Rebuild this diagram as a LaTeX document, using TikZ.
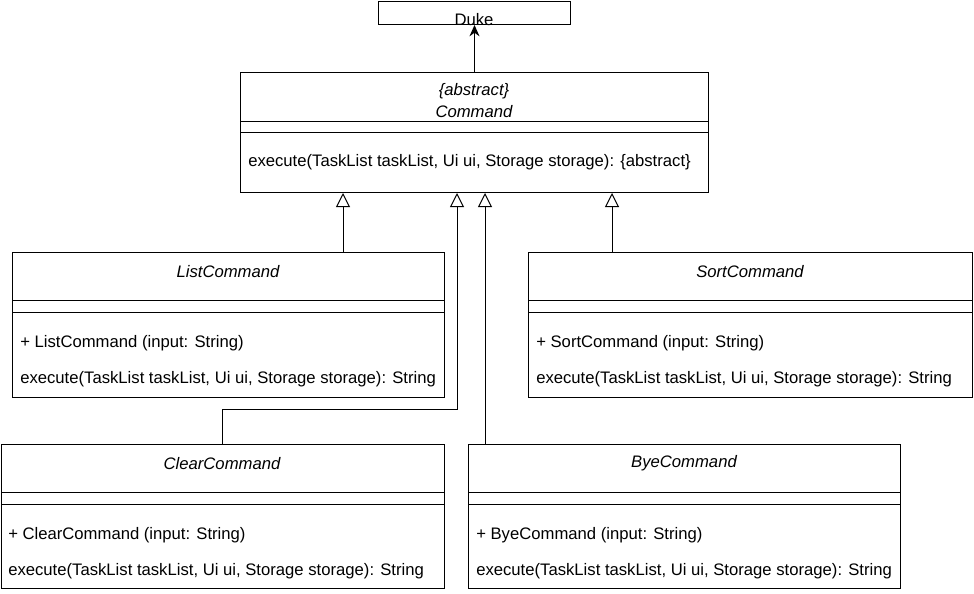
\documentclass[tikz,border=0pt]{standalone}
\usepackage{fontspec}
\setmainfont{Liberation Sans}
\usetikzlibrary{arrows.meta}
\newcommand{\px}{0.75pt}
\tikzset{
	classbox/.style={draw=black, line width=0.75pt, rectangle, inner sep=0pt, anchor=north west},
	title/.style={font=\fontsize{12.5}{15}\selectfont\itshape, inner sep=0pt, yshift=-1pt},
	member/.style={font=\fontsize{12.5}{15}\selectfont, inner sep=0pt, anchor=west, yshift=-1pt},
	gen/.style={draw=black, line width=0.75pt, -{Triangle[open, length=10.5pt, width=10.5pt]}},
	assoc/.style={draw=black, line width=0.75pt, -{Stealth[length=8.5pt, width=7.5pt]}}
}
\begin{document}
\begin{tikzpicture}[x=0.75pt, y=-0.75pt]
	\useasboundingbox (0,0) rectangle (974,593);
	% boxes
	\node[classbox, minimum width=192*\px, minimum height=23*\px] (duke) at (378,1) {};
	\node[title, font=\fontsize{12.5}{15}\selectfont] at (474,18) {Duke};
	\node[classbox, minimum width=468*\px, minimum height=120*\px] (cmd) at (240,72) {};
	\node[title] at (474,90) {\{abstract\}};
	\node[title] at (474,110) {Command};
	\draw[line width=0.75pt] (cmd.west |- 0,121) -- (cmd.east |- 0,121);
	\draw[line width=0.75pt] (cmd.west |- 0,132) -- (cmd.east |- 0,132);
	\node[member] at (248,161) {execute(TaskList taskList, Ui ui, Storage storage): \{abstract\}};
	\node[classbox, minimum width=432*\px, minimum height=145*\px] (list) at (12,252) {};
	\node[title] at (228,270) {ListCommand};
	\draw[line width=0.75pt] (list.west |- 0,300) -- (list.east |- 0,300);
	\draw[line width=0.75pt] (list.west |- 0,312) -- (list.east |- 0,312);
	\node[member] at (20,342) {+ ListCommand (input: String)};
	\node[member] at (20,378) {execute(TaskList taskList, Ui ui, Storage storage): String};
	\node[classbox, minimum width=444*\px, minimum height=145*\px] (sort) at (528,252) {};
	\node[title] at (750,270) {SortCommand};
	\draw[line width=0.75pt] (sort.west |- 0,300) -- (sort.east |- 0,300);
	\draw[line width=0.75pt] (sort.west |- 0,312) -- (sort.east |- 0,312);
	\node[member] at (536,342) {+ SortCommand (input: String)};
	\node[member] at (536,378) {execute(TaskList taskList, Ui ui, Storage storage): String};
	\node[classbox, minimum width=443*\px, minimum height=144*\px] (clear) at (1,444) {};
	\node[title] at (222,462) {ClearCommand};
	\draw[line width=0.75pt] (clear.west |- 0,492) -- (clear.east |- 0,492);
	\draw[line width=0.75pt] (clear.west |- 0,504) -- (clear.east |- 0,504);
	\node[member] at (8,534) {+ ClearCommand (input: String)};
	\node[member] at (8,570) {execute(TaskList taskList, Ui ui, Storage storage): String};
	\node[classbox, minimum width=432*\px, minimum height=144*\px] (bye) at (468,444) {};
	\node[title] at (684,462) {ByeCommand};
	\draw[line width=0.75pt] (bye.west |- 0,492) -- (bye.east |- 0,492);
	\draw[line width=0.75pt] (bye.west |- 0,504) -- (bye.east |- 0,504);
	\node[member] at (476,534) {+ ByeCommand (input: String)};
	\node[member] at (476,570) {execute(TaskList taskList, Ui ui, Storage storage): String};
	% connectors
	\draw[assoc] (cmd.north) -- (duke.south);
	\coordinate (listtop) at (343,252);
	\coordinate (sorttop) at (612,252);
	\coordinate (cleartop) at (222,444);
	\coordinate (clearup) at (457,409);
	\coordinate (byetop) at (485,444);
	\draw[gen] (listtop) -- (listtop |- cmd.south);
	\draw[gen] (sorttop) -- (sorttop |- cmd.south);
	\draw[gen] (cleartop) |- (clearup) -- (clearup |- cmd.south);
	\draw[gen] (byetop) -- (byetop |- cmd.south);
\end{tikzpicture}
\end{document}
